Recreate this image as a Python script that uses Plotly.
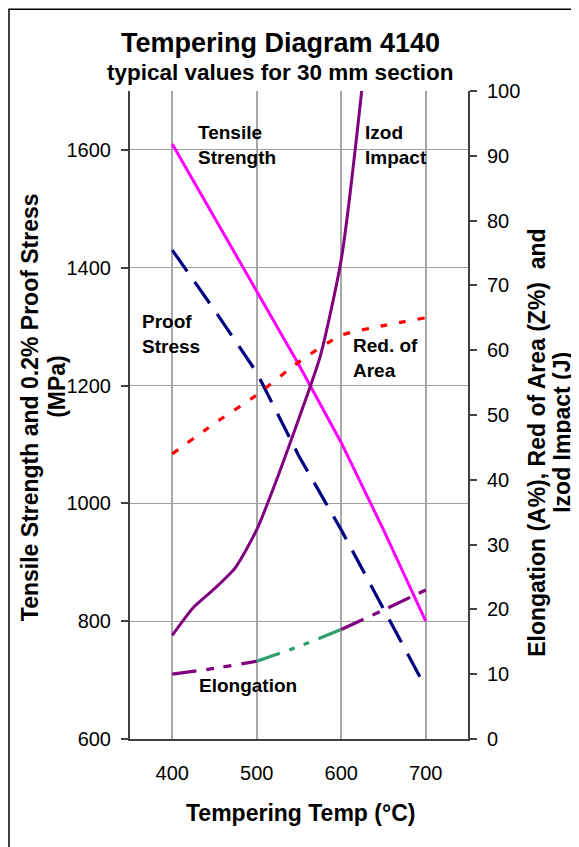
import plotly.graph_objects as go

# ---------------- data ----------------
temps = [400, 450, 500, 550, 600, 650, 700]
tensile_mpa = [1610, 1485, 1362, 1235, 1103, 955, 800]
proof_mpa = [1430, 1328, 1222, 1080, 955, 820, 687]
red_area_pct = [44, 48.7, 53.1, 58.2, 62.3, 63.8, 65]

izod_temps = [400, 425, 450, 475, 500, 525, 550, 575, 600, 625, 650]
izod_j = [16, 20.3, 23.2, 26.5, 32.3, 40.5, 49.5, 59, 74, 101, 135]

elong_temps = [400, 450, 500, 550, 600, 650, 700]
elong_pct = [10, 10.9, 12, 14.3, 16.9, 19.9, 23]
elong_green_from, elong_green_to = 500, 600

x_ticks = [400, 500, 600, 700]
left_ticks = [600, 800, 1000, 1200, 1400, 1600]
right_ticks = [0, 10, 20, 30, 40, 50, 60, 70, 80, 90, 100]

FONT = "Liberation Sans, Arial, sans-serif"

fig = go.Figure()

fig.add_trace(go.Scatter(x=temps, y=tensile_mpa, mode="lines",
                         line=dict(color="#ff00ff", width=3), name="Tensile Strength"))
fig.add_trace(go.Scatter(x=temps, y=proof_mpa, mode="lines",
                         line=dict(color="#000080", width=3.2, dash="26px,13px"), name="Proof Stress"))
fig.add_trace(go.Scatter(x=temps, y=red_area_pct, mode="lines", yaxis="y2",
                         line=dict(color="#ff0000", width=3.2, dash="7px,12px", shape="spline", smoothing=0.6),
                         name="Red. of Area"))
fig.add_trace(go.Scatter(x=izod_temps, y=izod_j, mode="lines", yaxis="y2",
                         line=dict(color="#800080", width=3, shape="spline", smoothing=0.6), name="Izod Impact"))

# elongation: purple outside the 500-600 span, green inside
purple_lo_x = [t for t in elong_temps if t <= elong_green_from]
purple_lo_y = [v for t, v in zip(elong_temps, elong_pct) if t <= elong_green_from]
purple_hi_x = [t for t in elong_temps if t >= elong_green_to]
purple_hi_y = [v for t, v in zip(elong_temps, elong_pct) if t >= elong_green_to]
green_x = [t for t in elong_temps if elong_green_from <= t <= elong_green_to]
green_y = [v for t, v in zip(elong_temps, elong_pct) if elong_green_from <= t <= elong_green_to]

fig.add_trace(go.Scatter(x=purple_lo_x, y=purple_lo_y, mode="lines", yaxis="y2",
                         line=dict(color="#800080", width=3.2, dash="24px,10px,8px,10px,8px,10px",
                                   shape="spline", smoothing=0.6), name="Elongation"))
fig.add_trace(go.Scatter(x=green_x, y=green_y, mode="lines", yaxis="y2",
                         line=dict(color="#2f9e6e", width=3.2, dash="24px,10px,6px,10px,6px,10px",
                                   shape="spline", smoothing=0.6), name="Elongation"))
fig.add_trace(go.Scatter(x=purple_hi_x, y=purple_hi_y, mode="lines", yaxis="y2",
                         line=dict(color="#800080", width=3.2, dash="24px,10px,8px,10px",
                                   shape="spline", smoothing=0.6), name="Elongation"))

# ---------------- labels ----------------
series_labels = [
    ("Tensile<br>Strength", 428, 1650),
    ("Izod<br>Impact", 626, 1650),
    ("Proof<br>Stress", 362, 1330),
    ("Red. of<br>Area", 612, 1290),
    ("Elongation", 429, 712),
]
annotations = []
for text, x, y in series_labels:
    annotations.append(dict(x=x, y=y, xref="x", yref="y", text=f"<b>{text}</b>", showarrow=False,
                            xanchor="left", yanchor="top", align="left",
                            font=dict(family=FONT, size=19, color="black")))


def paper_text(text, x, y, size, angle=0):
    return dict(x=x, y=y, xref="paper", yref="paper", text=f"<b>{text}</b>", showarrow=False,
                xanchor="center", yanchor="middle", textangle=angle,
                font=dict(family=FONT, size=size, color="black"))


annotations += [
    paper_text("Tempering Diagram 4140", 0.445, 1.074, 27),
    paper_text("typical values for 30 mm section", 0.445, 1.028, 22.5),
    paper_text("Tempering Temp (°C)", 0.503, -0.114, 23),
    paper_text("Tensile Strength and 0.2% Proof Stress", -0.296, 0.512, 23, -90),
    paper_text("(MPa)", -0.216, 0.545, 23, -90),
    paper_text("Elongation (A%), Red of Area (Z%)  and", 1.204, 0.457, 23, -90),
    paper_text("Izod Impact (J)", 1.278, 0.474, 23, -90),
]

fig.update_layout(
    width=571, height=839,
    margin=dict(l=122, r=111, t=83, b=108),
    paper_bgcolor="white", plot_bgcolor="white",
    showlegend=False,
    font=dict(family=FONT, size=20, color="black"),
    xaxis=dict(range=[350, 750], tickvals=x_ticks, showgrid=True, gridcolor="#a8a8a8", gridwidth=1.5,
               showline=True, linecolor="#404040", linewidth=2, ticks="", ticklabelstandoff=15,
               zeroline=False, tickfont=dict(family=FONT, size=20, color="black")),
    yaxis=dict(range=[600, 1700], tickvals=left_ticks, showgrid=True, gridcolor="#a0a0a0", gridwidth=1,
               showline=True, linecolor="#404040", linewidth=2, ticks="outside", ticklen=7, tickcolor="#404040",
               tickwidth=1.5, ticklabelstandoff=6, zeroline=False,
               tickfont=dict(family=FONT, size=20, color="black")),
    yaxis2=dict(range=[0, 100], tickvals=right_ticks, overlaying="y", side="right", showgrid=False,
                showline=True, linecolor="#404040", linewidth=2, ticks="outside", ticklen=7, tickcolor="#404040",
                tickwidth=1.5, ticklabelstandoff=6, zeroline=False,
                tickfont=dict(family=FONT, size=20, color="black")),
    annotations=annotations,
    shapes=[dict(type="rect", xref="paper", yref="paper", x0=-0.358, x1=2.0, y0=-1.0, y1=1.126,
                 line=dict(color="black", width=1.5), layer="below")],
)

fig.write_html("out.html")
